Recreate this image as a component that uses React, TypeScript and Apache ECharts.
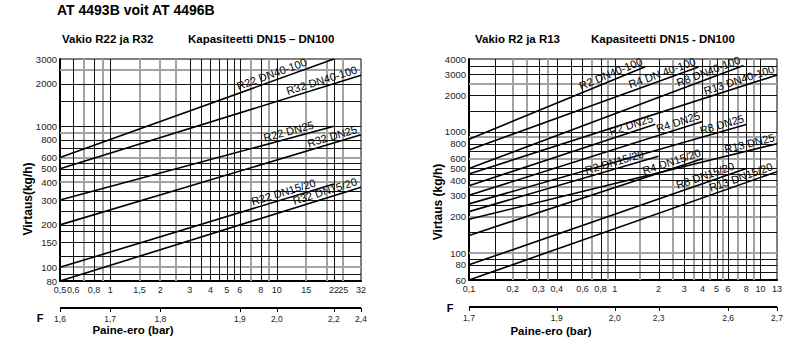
import React, { useEffect, useRef } from 'react';
import * as echarts from 'echarts';

const FONT = "'Liberation Sans', Arial, sans-serif";

// ---------- Left chart (R22 / R32) ----------
const leftXTicks = [0.5, 0.6, 0.8, 1, 1.5, 2, 3, 4, 5, 6, 8, 10, 15, 22, 25, 32];
const leftYTicks = [3000, 2000, 1000, 800, 600, 500, 400, 300, 200, 150, 100, 80];
const leftVGridBlack = [0.6, 0.8, 1, 3, 3.5, 4, 4.5, 5, 5.5, 6, 8, 10, 22];
const leftVGridGray = [0.7, 0.9, 1.5, 2, 2.5, 7, 9, 15, 20, 25];
const leftHGridBlack = [2000, 1500, 1000, 800, 700, 550, 500, 450, 350, 300, 250, 200, 180, 150, 120, 90];
const leftHGridGray = [2500, 900, 600, 400, 100];
const leftFValues = [0.5, 1, 2, 6, 10, 22, 32];
const leftFLabels = ['1,6', '1,7', '1,8', '1,9', '2,0', '2,2', '2,4'];
const leftNames = ['R22 DN40-100', 'R32 DN40-100', 'R22 DN25', 'R32 DN25', 'R22 DN15/20', 'R32 DN15/20'];
const leftStartX = [0.5, 0.5, 0.5, 0.5, 0.5, 0.5];
const leftStartY = [600, 500, 300, 200, 100, 80];
const leftEndX = [22, 32, 22, 32, 22, 32];
const leftEndY = [3000, 2300, 1000, 870, 390, 370];
const leftLabelX = [15.5, 31, 17, 31, 17.5, 31];

// ---------- Right chart (R2 / R4 / R8 / R13) ----------
const rightXTicks = [0.1, 0.2, 0.3, 0.4, 0.6, 0.8, 1, 2, 3, 4, 5, 6, 8, 10, 13];
const rightYTicks = [4000, 3000, 2000, 1000, 800, 600, 500, 400, 300, 200, 100, 80, 60];
const rightVGridBlack = [0.15, 0.3, 0.4, 0.5, 0.6, 0.8, 1, 2, 3, 4, 5, 6, 8, 10];
const rightVGridGray = [0.2, 0.25, 0.35, 0.7, 0.9, 1.5, 2.5, 3.5, 4.5, 5.5, 7, 9];
const rightHGridBlack = [3500, 3000, 2000, 1500, 1000, 800, 700, 500, 450, 400, 300, 250, 150, 90, 80, 70];
const rightHGridGray = [2500, 900, 600, 350, 200, 100];
const rightFValues = [0.1, 0.4, 1, 2, 6, 13];
const rightFLabels = ['1,7', '1,9', '2,0', '2,3', '2,6', '2,7'];
const rightNames = [
  'R2 DN40-100', 'R4 DN 40-100', 'R8 DN40-100', 'R13 DN40-100',
  'R2 DN25', 'R4 DN25', 'R8 DN25', 'R13 DN25',
  'R2 DN15/20', 'R4 DN15/20', 'R8 DN15/20', 'R13 DN15/20',
];
const rightStartX = [0.1, 0.1, 0.1, 0.1, 0.1, 0.1, 0.1, 0.1, 0.1, 0.1, 0.1, 0.1];
const rightStartY = [870, 710, 500, 450, 360, 300, 255, 190, 220, 140, 80, 60];
const rightEndX = [1.62, 3.76, 7.66, 13, 1.9, 4, 8, 13, 2, 4, 8, 13];
const rightEndY = [3450, 3430, 3540, 2950, 1160, 1220, 1150, 800, 630, 600, 500, 470];
const rightLabelX = [1.6, 3.7, 7.5, 12.8, 1.88, 3.95, 7.9, 12.8, 1.62, 4, 6.8, 12.5];

const LEFT = { xMin: 0.5, xMax: 32, yMin: 80, yMax: 3000 };
const RIGHT = { xMin: 0.1, xMax: 13, yMin: 60, yMax: 4000 };

const fmt = (v: number) => String(v).replace('.', ',');

function txtStyle(text: string, font: string, align: string, vAlign: string, fill = '#000') {
  return {
    text, font, fill,
    textAlign: align, textVerticalAlign: vAlign,
    align, verticalAlign: vAlign,
  };
}

function gridSeries(gi: number, vals: number[], dir: 'v' | 'h', color: string, width: number, ext: any) {
  return {
    type: 'custom', xAxisIndex: gi, yAxisIndex: gi, silent: true, z: 1,
    data: vals.map((v) => (dir === 'v' ? [v, ext.yMin] : [ext.xMin, v])),
    renderItem: (params: any, api: any) => {
      const cs = params.coordSys;
      const p = api.coord([api.value(0), api.value(1)]);
      const off = width % 2 === 1 ? 0.5 : 0;
      if (dir === 'v') {
        const x = Math.round(p[0]) + off;
        return { type: 'line', shape: { x1: x, y1: cs.y, x2: x, y2: cs.y + cs.height }, style: { stroke: color, lineWidth: width } };
      }
      const y = Math.round(p[1]) + off;
      return { type: 'line', shape: { x1: cs.x, y1: y, x2: cs.x + cs.width, y2: y }, style: { stroke: color, lineWidth: width } };
    },
  };
}

function xLabelSeries(gi: number, ticks: number[], ext: any) {
  return {
    type: 'custom', xAxisIndex: gi, yAxisIndex: gi, silent: true, z: 5,
    data: ticks.map((v) => [v, ext.yMin]),
    renderItem: (params: any, api: any) => {
      const p = api.coord([api.value(0), api.value(1)]);
      return { type: 'text', x: p[0], y: p[1] + 4, style: txtStyle(fmt(ticks[params.dataIndex]), `9px ${FONT}`, 'center', 'top', '#222') };
    },
  };
}

function yLabelSeries(gi: number, ticks: number[], ext: any) {
  return {
    type: 'custom', xAxisIndex: gi, yAxisIndex: gi, silent: true, z: 5,
    data: ticks.map((v) => [ext.xMin, v]),
    renderItem: (params: any, api: any) => {
      const p = api.coord([api.value(0), api.value(1)]);
      return { type: 'text', x: p[0] - 3, y: p[1], style: txtStyle(String(ticks[params.dataIndex]), `9.5px ${FONT}`, 'right', 'middle', '#222') };
    },
  };
}

function fScaleSeries(gi: number, vals: number[], labels: string[], ext: any) {
  return {
    type: 'custom', xAxisIndex: gi, yAxisIndex: gi, silent: true, z: 5,
    data: vals.map((v) => [v, ext.yMin]),
    renderItem: (params: any, api: any) => {
      const cs = params.coordSys;
      const p = api.coord([api.value(0), api.value(1)]);
      const yL = cs.y + cs.height + 27;
      const x = Math.round(p[0]) + 0.5;
      const children: any[] = [
        { type: 'line', shape: { x1: x, y1: yL, x2: x, y2: yL + 4 }, style: { stroke: '#000', lineWidth: 1 } },
        { type: 'text', x: p[0], y: yL + 6, style: txtStyle(labels[params.dataIndex], `8.5px ${FONT}`, 'center', 'top', '#222') },
      ];
      if (params.dataIndex === 0) {
        children.push({ type: 'line', shape: { x1: cs.x, y1: yL, x2: cs.x + cs.width, y2: yL }, style: { stroke: '#000', lineWidth: 2 } });
      }
      return { type: 'group', children };
    },
  };
}

function lineSeries(gi: number, x0: number, y0: number, x1: number, y1: number) {
  return {
    type: 'line', xAxisIndex: gi, yAxisIndex: gi, data: [[x0, y0], [x1, y1]],
    showSymbol: false, symbol: 'none', silent: true, z: 3,
    lineStyle: { color: '#000', width: 1.6 },
  };
}

function labelSeries(gi: number, names: string[], sx: number[], sy: number[], ex: number[], ey: number[], lx: number[]) {
  return {
    type: 'custom', xAxisIndex: gi, yAxisIndex: gi, silent: true, z: 6,
    data: names.map((_, i) => [sx[i], sy[i], ex[i], ey[i], lx[i]]),
    renderItem: (params: any, api: any) => {
      const i = params.dataIndex;
      const p1 = api.coord([api.value(0), api.value(1)]);
      const p2 = api.coord([api.value(2), api.value(3)]);
      const ax = api.coord([api.value(4), api.value(1)])[0];
      const t = (ax - p1[0]) / (p2[0] - p1[0]);
      const ay = p1[1] + t * (p2[1] - p1[1]);
      const ang = Math.atan2(p1[1] - p2[1], p2[0] - p1[0]);
      const st: any = txtStyle(names[i], `11px ${FONT}`, 'right', 'bottom', '#000');
      st.y = -1.5;
      return { type: 'text', x: ax, y: ay, rotation: ang, style: st };
    },
  };
}

function axisPair(gi: number, ext: any) {
  const common = { type: 'log', logBase: 10, gridIndex: gi, axisTick: { show: false }, axisLabel: { show: false }, splitLine: { show: false } };
  return {
    x: { ...common, min: ext.xMin, max: ext.xMax, axisLine: { show: true, onZero: false, lineStyle: { color: '#000', width: 2 } } },
    y: { ...common, min: ext.yMin, max: ext.yMax, axisLine: { show: true, onZero: false, lineStyle: { color: '#000', width: 2 } } },
  };
}

function buildOption() {
  const a0 = axisPair(0, LEFT);
  const a1 = axisPair(1, RIGHT);
  const series: any[] = [
    gridSeries(0, leftVGridGray, 'v', '#a3a3a3', 2, LEFT),
    gridSeries(0, leftHGridGray, 'h', '#a3a3a3', 2, LEFT),
    gridSeries(0, leftVGridBlack, 'v', '#111', 1, LEFT),
    gridSeries(0, leftHGridBlack, 'h', '#111', 1, LEFT),
    gridSeries(1, rightVGridGray, 'v', '#a3a3a3', 2, RIGHT),
    gridSeries(1, rightHGridGray, 'h', '#a3a3a3', 2, RIGHT),
    gridSeries(1, rightVGridBlack, 'v', '#111', 1, RIGHT),
    gridSeries(1, rightHGridBlack, 'h', '#111', 1, RIGHT),
    xLabelSeries(0, leftXTicks, LEFT),
    yLabelSeries(0, leftYTicks, LEFT),
    xLabelSeries(1, rightXTicks, RIGHT),
    yLabelSeries(1, rightYTicks, RIGHT),
    fScaleSeries(0, leftFValues, leftFLabels, LEFT),
    fScaleSeries(1, rightFValues, rightFLabels, RIGHT),
    labelSeries(0, leftNames, leftStartX, leftStartY, leftEndX, leftEndY, leftLabelX),
    labelSeries(1, rightNames, rightStartX, rightStartY, rightEndX, rightEndY, rightLabelX),
  ];
  leftNames.forEach((_, i) => series.push(lineSeries(0, leftStartX[i], leftStartY[i], leftEndX[i], leftEndY[i])));
  rightNames.forEach((_, i) => series.push(lineSeries(1, rightStartX[i], rightStartY[i], rightEndX[i], rightEndY[i])));

  const bold = (s: number) => `bold ${s}px ${FONT}`;
  return {
    animation: false,
    backgroundColor: '#fff',
    grid: [
      { left: 60, top: 59, width: 301, height: 222, show: true, borderColor: '#000', borderWidth: 1, containLabel: false },
      { left: 469, top: 59, width: 308, height: 221, show: true, borderColor: '#000', borderWidth: 1, containLabel: false },
    ],
    xAxis: [a0.x, a1.x],
    yAxis: [a0.y, a1.y],
    series,
    graphic: [
      { type: 'text', x: 57, y: 10, style: txtStyle('AT 4493B voit AT 4496B', bold(14), 'left', 'middle') },
      { type: 'text', x: 62, y: 39, style: txtStyle('Vakio R22 ja R32', bold(11.5), 'left', 'middle') },
      { type: 'text', x: 188, y: 39, style: txtStyle('Kapasiteetti DN15 – DN100', bold(11.5), 'left', 'middle') },
      { type: 'text', x: 475, y: 39, style: txtStyle('Vakio R2 ja R13', bold(11.5), 'left', 'middle') },
      { type: 'text', x: 591, y: 39, style: txtStyle('Kapasiteetti DN15 - DN100', bold(11.5), 'left', 'middle') },
      { type: 'text', x: 28, y: 199, rotation: Math.PI / 2, style: txtStyle('Virtaus(kg/h)', bold(12), 'center', 'middle') },
      { type: 'text', x: 438, y: 202, rotation: Math.PI / 2, style: txtStyle('Virtaus (kg/h)', bold(12), 'center', 'middle') },
      { type: 'text', x: 40, y: 318, style: txtStyle('F', bold(11), 'center', 'middle') },
      { type: 'text', x: 450, y: 308, style: txtStyle('F', bold(11), 'center', 'middle') },
      { type: 'text', x: 133, y: 330, style: txtStyle('Paine-ero (bar)', bold(11.5), 'center', 'middle') },
      { type: 'text', x: 551, y: 331, style: txtStyle('Paine-ero (bar)', bold(11.5), 'center', 'middle') },
    ],
  };
}

export default function App() {
  const ref = useRef<HTMLDivElement>(null);
  useEffect(() => {
    if (!ref.current) return;
    const chart = echarts.init(ref.current, null, { renderer: 'svg' });
    chart.setOption(buildOption() as any);
    return () => chart.dispose();
  }, []);
  return <div ref={ref} style={{ position: 'fixed', left: 0, top: 0, width: 800, height: 356, background: '#fff' }} />;
}
